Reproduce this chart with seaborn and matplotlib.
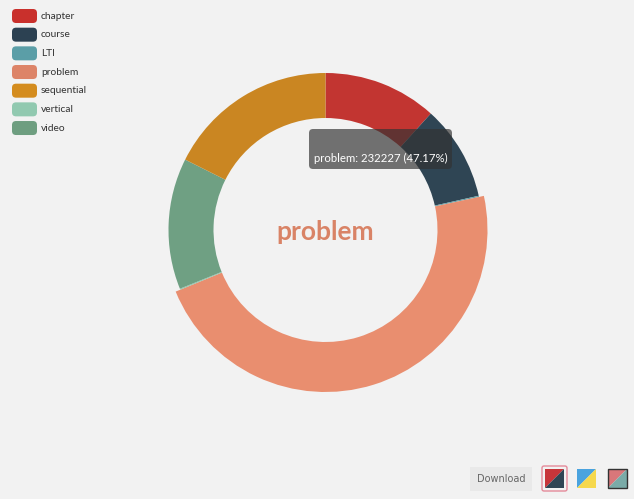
import matplotlib
matplotlib.use("Agg")
import matplotlib.pyplot as plt
from matplotlib.patches import FancyBboxPatch, Polygon, Rectangle
import seaborn as sns

# ---- data (ring order, as in the data source) ----
categories = ["chapter", "course", "LTI", "problem", "vertical", "video", "sequential"]
values = [57600, 48250, 600, 232227, 530, 66460, 86650]
colors = ["#c23531", "#2f4554", "#61a0a8", "#e98e6f", "#91c7ae", "#6fa083", "#ca8622"]
legend_order = ["chapter", "course", "LTI", "problem", "sequential", "vertical", "video"]
legend_colors = {"chapter": "#c9302c", "course": "#2c4152", "LTI": "#5b9ea7",
                 "problem": "#dd8468", "sequential": "#d48c1e", "vertical": "#91c9b0",
                 "video": "#6e9e80"}
highlight = "problem"
tooltip_text = "problem: 232227 (47.17%)"

sns.set_style("white")
plt.rcParams["font.family"] = ["Lato", "DejaVu Sans"]
pal = sns.color_palette(colors)

W, H = 634, 499
BG = "#f2f2f2"
fig = plt.figure(figsize=(W / 100, H / 100), dpi=100, facecolor=BG)
ax = fig.add_axes([0, 0, 1, 1])
ax.set_facecolor(BG)

def Y(y):
    return H - y

cx, cy = 325.5, 230
r_out, r_in, r_hover = 157, 112, 162

wedges, _ = ax.pie(values, colors=pal, startangle=90, counterclock=False,
                   radius=r_out, center=(cx, Y(cy)),
                   wedgeprops=dict(width=r_out - r_in, linewidth=0))
hi = categories.index(highlight)
wedges[hi].set_radius(r_hover)
wedges[hi].set_width(r_hover - r_in)

ax.set_xlim(0, W)
ax.set_ylim(0, H)
ax.set_aspect("equal")
ax.axis("off")

# center label
ax.text(cx, Y(232), highlight, ha="center", va="center", fontsize=19,
        fontweight="bold", color="#d98366")

# tooltip
ax.add_patch(FancyBboxPatch((309, Y(169)), 143, 40,
                            boxstyle="round,pad=0,rounding_size=4",
                            facecolor=(0.2, 0.2, 0.2, 0.68), edgecolor="none", zorder=5))
ax.text(380.5, Y(158), tooltip_text, ha="center", va="center", fontsize=8.2,
        color="white", zorder=6)

# legend
for i, name in enumerate(legend_order):
    yc = 16 + i * 18.67
    ax.add_patch(FancyBboxPatch((12, Y(yc + 7)), 25, 14,
                                boxstyle="round,pad=0,rounding_size=4",
                                facecolor=legend_colors[name], edgecolor="none"))
    ax.text(41, Y(yc), name, ha="left", va="center", fontsize=7.4, color="#333333")

# download toolbox
ax.add_patch(Rectangle((470, Y(491)), 62, 24, facecolor="#e9e9e9", edgecolor="none"))
ax.text(501, Y(479.5), "Download", ha="center", va="center", fontsize=7,
        color="#666666", family=["DejaVu Sans"])

def icon(x0, y0, s, c1, c2, edge=None, frame=None):
    if frame is not None:
        ax.add_patch(FancyBboxPatch((x0 - 3, Y(y0 + s + 3)), s + 6, s + 6,
                                    boxstyle="round,pad=0,rounding_size=2",
                                    facecolor="none", edgecolor=frame, linewidth=1.0))
    ax.add_patch(Polygon([(x0, Y(y0)), (x0 + s, Y(y0)), (x0, Y(y0 + s))],
                         closed=True, facecolor=c1, edgecolor="none"))
    ax.add_patch(Polygon([(x0 + s, Y(y0)), (x0 + s, Y(y0 + s)), (x0, Y(y0 + s))],
                         closed=True, facecolor=c2, edgecolor="none"))
    if edge is not None:
        ax.add_patch(Rectangle((x0, Y(y0 + s)), s, s, facecolor="none",
                               edgecolor=edge, linewidth=1.0))

icon(545, 469, 19, "#c7353a", "#2f4554", frame="#e58a9a")
icon(577, 469, 19, "#4aa3df", "#f6d84d")
icon(608, 469, 19, "#d9777a", "#7aaba8", edge="#333333")

fig.savefig("out.png", dpi=100, facecolor=BG)
